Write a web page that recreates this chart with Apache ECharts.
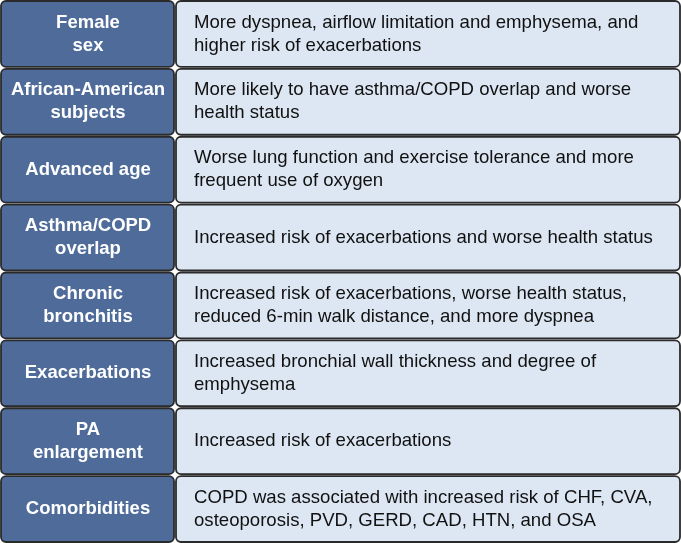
<!DOCTYPE html>
<html><head><meta charset="utf-8">
<script src="https://cdn.jsdelivr.net/npm/echarts@6/dist/echarts.min.js"></script>
<style>html,body{margin:0;padding:0;background:#fff}#c{width:681px;height:543px}</style>
</head><body><div id="c"></div>
<script>
var factors = ['Female\nsex','African-American\nsubjects','Advanced age','Asthma/COPD\noverlap','Chronic\nbronchitis','Exacerbations','PA\nenlargement','Comorbidities'];
var findings = [
 'More dyspnea, airflow limitation and emphysema, and\nhigher risk of exacerbations',
 'More likely to have asthma/COPD overlap and worse\nhealth status',
 'Worse lung function and exercise tolerance and more\nfrequent use of oxygen',
 'Increased risk of exacerbations and worse health status',
 'Increased risk of exacerbations, worse health status,\nreduced 6-min walk distance, and more dyspnea',
 'Increased bronchial wall thickness and degree of\nemphysema',
 'Increased risk of exacerbations',
 'COPD was associated with increased risk of CHF, CVA,\nosteoporosis, PVD, GERD, CAD, HTN, and OSA'
];
var rowIdx = factors.map(function(_, i){ return i; });

var chart = echarts.init(document.getElementById('c'), null, {renderer:'canvas'});
var SPLIT = 175;
chart.setOption({
  animation:false,
  grid:{left:0,right:0,top:0,bottom:0},
  xAxis:{type:'value',min:0,max:681,show:false},
  yAxis:{type:'category',inverse:true,data:rowIdx,show:false},
  series:[{
    type:'custom',
    data: rowIdx.map(function(i){ return [0, i]; }),
    renderItem:function(params, api){
      var i = api.value(1);
      var c = api.coord([0, i]);
      var h = api.size([0, 1])[1];
      var top = c[1] - h/2 + 1, ht = h - 2;
      var xL = api.coord([0, i])[0] + 1;
      var xS = api.coord([SPLIT, i])[0];
      var xR = api.coord([681, i])[0] - 1;
      return {type:'group', children:[
        {type:'rect', shape:{x:xL, y:top, width:xS-1-xL, height:ht, r:5},
         style:{fill:'#4e6b9a', stroke:'#2a2a2a', lineWidth:1.8}},
        {type:'rect', shape:{x:xS+1, y:top, width:xR-xS-1, height:ht, r:5},
         style:{fill:'#dde7f3', stroke:'#2a2a2a', lineWidth:1.8}},
        {type:'text', x:(xL+xS)/2, y:c[1],
         style:{text:factors[i], fill:'#fff', font:'bold 18.5px "Liberation Sans", Arial, sans-serif',
                align:'center', verticalAlign:'middle', lineHeight:23}},
        {type:'text', x:xS+19, y:c[1],
         style:{text:findings[i], fill:'#111', font:'18.6px "Liberation Sans", Arial, sans-serif',
                align:'left', verticalAlign:'middle', lineHeight:23}}
      ]};
    }
  }]
});
</script></body></html>
